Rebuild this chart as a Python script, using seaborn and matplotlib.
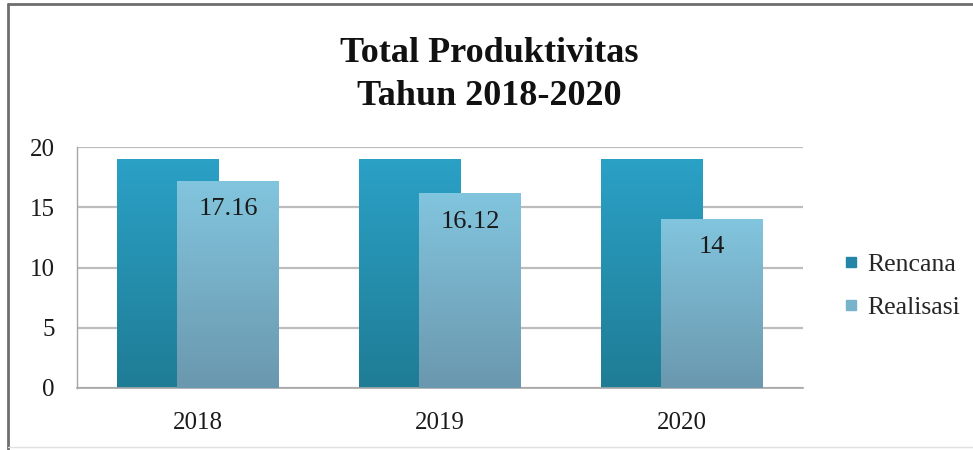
import numpy as np
import pandas as pd
import seaborn as sns
import matplotlib.pyplot as plt
from matplotlib.lines import Line2D
from matplotlib.colors import LinearSegmentedColormap

tahun = ["2018", "2019", "2020"]
rencana = [19, 19, 19]
realisasi = [17.16, 16.12, 14]
seri = ["Rencana", "Realisasi"]
judul = "Total Produktivitas\nTahun 2018-2020"
yticks = [0, 5, 10, 15, 20]

df = pd.DataFrame({
    "Tahun": tahun * 2,
    "Nilai": rencana + realisasi,
    "Seri": [seri[0]] * len(tahun) + [seri[1]] * len(tahun),
})

sns.set_theme(style="white")
plt.rcParams['font.family'] = ['Liberation Serif', 'DejaVu Serif']

grad = {
    "Rencana": ("#2ba1c6", "#1f7c95"),
    "Realisasi": ("#82c5de", "#6a98ae"),
}
solid = {"Rencana": "#2585a6", "Realisasi": "#78b3cc"}

fig = plt.figure(figsize=(9.73, 4.5), dpi=100)
ax = fig.add_axes([77 / 973, 1 - 388 / 450, 726 / 973, 241 / 450])

sns.barplot(data=df, x="Tahun", y="Nilai", hue="Seri", hue_order=seri,
            palette=solid, width=0.5, saturation=1, legend=False, ax=ax,
            errorbar=None)

bar_w = 0.42
n = len(tahun)
for i, p in enumerate(ax.patches[:2 * n]):
    s = seri[i // n]
    cx = p.get_x() + p.get_width() / 2
    h = p.get_height()
    p.set_x(cx - bar_w / 2)
    p.set_width(bar_w)
    p.set_facecolor("none")
    p.set_edgecolor("none")
    z = 2 + i // n
    cmap = LinearSegmentedColormap.from_list(s, [grad[s][1], grad[s][0]])
    g = np.linspace(0, 1, 256).reshape(-1, 1)
    ax.imshow(g, cmap=cmap, aspect="auto", origin="lower",
              extent=[cx - bar_w / 2, cx + bar_w / 2, 0, h], zorder=z)
    if s == "Realisasi":
        ax.annotate(f"{h:g}", xy=(cx, h), xytext=(0, -28),
                    textcoords="offset pixels", ha="center", va="center",
                    fontsize=19, color="#1a1a1a", zorder=5)

ax.set_xlim(-0.5, n - 0.5)
ax.set_ylim(0, 20)
ax.set_yticks(yticks)
ax.set_xlabel("")
ax.set_ylabel("")
ax.set_axisbelow(True)
ax.yaxis.grid(True, color="#bdbdbd", linewidth=1.6)
ax.xaxis.grid(False)
for sp in ["top", "right"]:
    ax.spines[sp].set_visible(False)
ax.spines["left"].set_color("#a6a6a6")
ax.spines["bottom"].set_color("#a6a6a6")
ax.spines["left"].set_linewidth(1.0)
ax.spines["bottom"].set_linewidth(1.2)
ax.tick_params(axis="y", length=0, pad=16, labelsize=18, labelcolor="#1a1a1a")
ax.tick_params(axis="x", length=0, pad=17, labelsize=18, labelcolor="#1a1a1a")

handles = [Line2D([], [], marker="s", linestyle="none", markersize=7,
                  markerfacecolor=solid[s], markeredgecolor=solid[s]) for s in seri]
fig.legend(handles, seri, loc="center left", bbox_to_anchor=(829 / 973, 1 - 286 / 450),
           frameon=False, fontsize=18.5, handletextpad=0.3, labelspacing=0.75,
           borderpad=0, handlelength=0.7)

fig.text(0.503, 1 - 75 / 450, judul, ha="center", va="center", fontsize=26,
         fontweight="bold", linespacing=1.4, color="#111111")

fig.add_artist(Line2D([8 / 973, 8 / 973], [0, 1 - 4 / 450], color="#6e6e6e", linewidth=2))
fig.add_artist(Line2D([8 / 973, 1], [1 - 4 / 450, 1 - 4 / 450], color="#6e6e6e", linewidth=2))
fig.add_artist(Line2D([8 / 973, 1], [3 / 450, 3 / 450], color="#e0e0e0", linewidth=1))

fig.savefig("out.png", dpi=100)
